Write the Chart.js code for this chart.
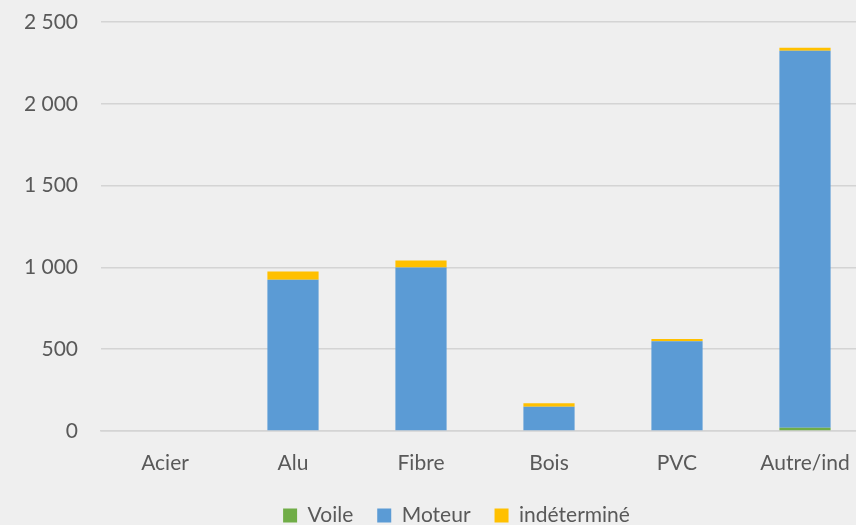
<!DOCTYPE html>
<html>
<head>
<meta charset="utf-8">
<script src="https://cdn.jsdelivr.net/npm/chart.js@4"></script>
<style>
    html, body { margin: 0; padding: 0; overflow: hidden; background: #efefef; }
    #wrap { width: 913px; height: 525px; position: relative; }
</style>
</head>
<body>
<div id="wrap"><canvas id="chart"></canvas></div>
<script>
// Données
const categories = ['Acier', 'Alu', 'Fibre', 'Bois', 'PVC', 'Autre/ind'];
const voile = [0, 0, 0, 0, 0, 20];
const moteur = [0, 925, 1000, 148, 548, 2305];
const indetermine = [0, 50, 42, 22, 15, 18];
const yTicks = [0, 500, 1000, 1500, 2000, 2500];

const textColor = '#595959';
const gridColor = '#d4d4d4';
const fontFamily = 'Lato, "Open Sans", sans-serif';

function fmt(v) {
    return String(v).replace(/\B(?=(\d{3})+(?!\d))/g, ' ');
}

// la légende est centrée sur toute la largeur (graphique coupé à droite)
const shiftLegend = {
    id: 'shiftLegend',
    afterLayout(chart) {
        if (chart.legend) {
            chart.legend.left += 22;
            chart.legend.right += 22;
        }
    }
};

const ctx = document.getElementById('chart').getContext('2d');
const chart = new Chart(ctx, {
    type: 'bar',
    data: {
        labels: categories,
        datasets: [
            { label: 'Voile', data: voile, backgroundColor: '#70ad47' },
            { label: 'Moteur', data: moteur, backgroundColor: '#5b9bd5' },
            { label: 'indéterminé', data: indetermine, backgroundColor: '#ffc000' }
        ]
    },
    options: {
        responsive: true,
        maintainAspectRatio: false,
        animation: false,
        datasets: {
            bar: { barPercentage: 0.4, categoryPercentage: 1, borderWidth: 0 }
        },
        layout: { padding: { top: 22, right: 44, left: 0, bottom: -11 } },
        scales: {
            x: {
                stacked: true,
                grid: { display: false, drawTicks: false },
                border: { display: true, color: gridColor, width: 1.5 },
                ticks: { color: textColor, font: { family: fontFamily, size: 21 }, padding: 20 },
                afterFit: s => { s.height = 50; }
            },
            y: {
                stacked: true,
                min: 0,
                max: 2500,
                afterBuildTicks: s => { s.ticks = yTicks.map(v => ({ value: v })); },
                grid: { color: gridColor, lineWidth: 1.5, drawTicks: false },
                border: { display: false },
                ticks: {
                    color: textColor,
                    font: { family: fontFamily, size: 21 },
                    padding: 23,
                    callback: v => fmt(v)
                },
                afterFit: s => {
                    s.width = 101;
                    s.paddingTop = 0;
                    s.paddingBottom = 0;
                }
            }
        },
        plugins: {
            legend: {
                position: 'bottom',
                labels: {
                    color: textColor,
                    font: { family: fontFamily, size: 21 },
                    boxWidth: 14,
                    boxHeight: 14,
                    padding: 24
                }
            },
            tooltip: { enabled: false }
        }
    },
    plugins: [shiftLegend]
});
</script>
</body>
</html>
